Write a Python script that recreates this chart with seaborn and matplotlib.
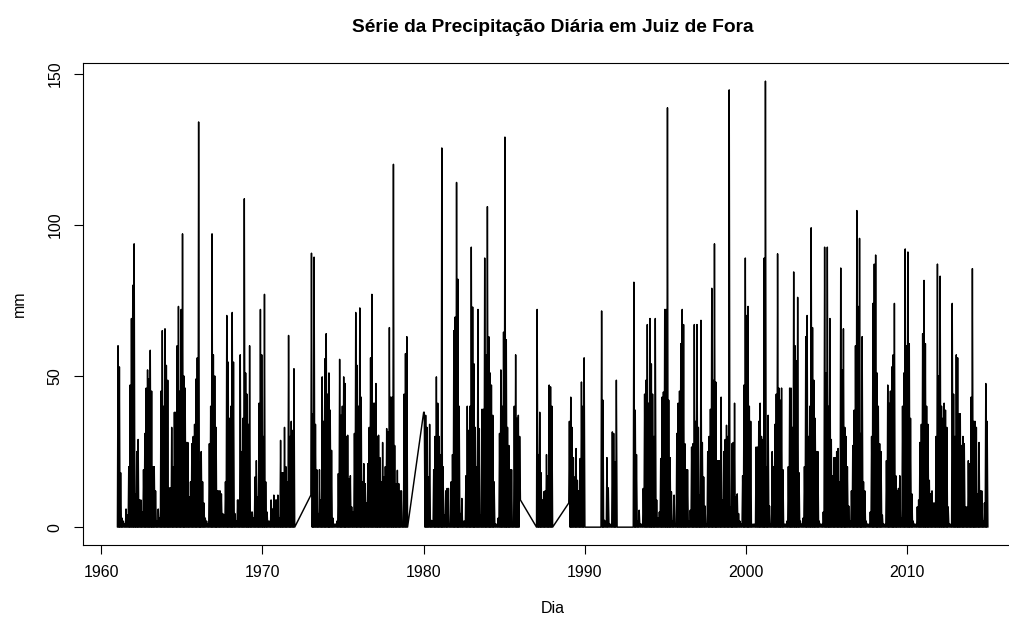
import matplotlib
matplotlib.use("Agg")
import matplotlib.pyplot as plt
import numpy as np
import pandas as pd
import seaborn as sns

# ---------------------------------------------------------------
# Monthly maximum of daily precipitation (mm), Jan..Dec
# ---------------------------------------------------------------
years_1960s = [1961, 1962, 1963, 1964, 1965, 1966, 1967, 1968, 1969]
rain_1960s = [
    [60, 53, 18, 3, 2, 1, 6, 4, 20, 47, 69, 80],
    [93.7, 11, 25, 29, 9, 9, 5, 19, 31, 46, 52, 49],
    [58.5, 45, 20, 20, 12, 2, 6, 3, 45, 65, 40, 65.6],
    [53.5, 48.6, 13, 13, 33, 20, 38, 38, 60, 73, 45, 72],
    [97, 50, 46, 28, 28, 10, 15, 27.6, 30, 34, 49, 56],
    [134, 21.6, 25, 15, 8, 3, 2, 1, 27.6, 40, 97, 57],
    [50, 33, 12, 12, 12, 11, 4.5, 4, 15, 70, 54.6, 36],
    [40, 71, 54.6, 4.5, 2, 9, 9, 57, 25, 36, 108.6, 51],
    [44, 34, 60, 5, 5, 3, 16.6, 22, 10, 41, 72, 57],
]

years_1970s = [1970, 1971, 1973, 1974, 1975, 1976, 1977, 1978]
rain_1970s = [
    [30, 77, 15, 5, 2, 2, 9, 6, 10.6, 9, 9, 10.6],
    [3, 28.7, 18, 18, 33, 20, 15, 63.4, 30, 35, 32, 52.4],
    [90.6, 37.5, 89.3, 34, 19, 4.5, 19, 9, 49.7, 35, 55.7, 64],
    [44, 51, 38.7, 25.4, 3, 1, 1, 2, 17.7, 55.5, 37, 40],
    [49.7, 47.5, 30, 30.4, 16, 17, 6.7, 5, 31, 71, 53.5, 40],
    [72.5, 43, 15, 21, 14.4, 8, 21, 33, 56, 77, 41, 41],
    [47.5, 30, 30.4, 23, 15, 28, 16.6, 20, 32.6, 31.5, 66, 43],
    [43, 120, 27, 14.4, 18.8, 14.4, 12, 12, 1, 44, 57.4, 63],
]

years_1980s = [1980, 1981, 1982, 1983, 1984, 1985, 1987, 1989]
rain_1980s = [
    [38, 37, 33, 16.6, 34, 2.3, 2, 19, 30, 49.7, 41, 30],
    [24, 125.4, 20, 4, 12, 12.8, 12.8, 1, 15, 24, 65, 69.5],
    [114, 82, 40, 4.5, 9.5, 2, 2, 17, 40, 32, 40, 92.6],
    [72.8, 54, 33, 20, 72, 32.6, 4, 39, 39, 89, 57, 106],
    [63, 51, 47, 37, 15, 1, 1, 3, 31, 52, 40, 64.5],
    [129, 62, 33, 27, 19, 19, 1, 40, 57, 36, 37, 30],
    [72, 24, 38, 18, 9, 11.7, 12, 24, 17, 47, 46.4, 40],
    [35, 43, 33, 23, 16.6, 26, 15.5, 12, 22.7, 48, 40, 56],
]

years_1990s = [1990, 1991, 1992, 1993, 1994, 1995, 1996, 1997, 1998, 1999]
rain_1990s = [
    [0, 0, 0, 0, 0, 0, 0, 0, 0, 0, 0, 0],
    [71.5, 42, 2.3, 2, 23, 13, 1, 1, 31.5, 31, 21.6, 48.6],
    [0, 0, 0, 0, 0, 0, 0, 0, 0, 0, 0, 0],
    [81, 38.7, 24, 2, 5.6, 1, 1, 12.8, 44, 48.6, 67, 41],
    [69, 54, 44, 30, 69, 9, 3, 5, 22.7, 43, 44.7, 72],
    [72, 138.7, 42, 23, 11.7, 2, 10.6, 1, 31, 41, 45, 60.7],
    [72, 67, 27.6, 19, 19, 2, 5.6, 26.5, 27.6, 67, 35, 67],
    [33, 10.6, 68.4, 28, 16.6, 7, 1, 25, 30, 39, 79, 48.6],
    [93.7, 48, 22, 22, 22, 43, 9, 25, 29, 33.7, 30, 144.6],
    [6.7, 27.6, 28, 41, 10, 11, 4.5, 2, 1, 17, 47, 89],
]

years_2000s = [2000, 2001, 2002, 2003, 2004, 2005, 2006, 2007, 2008, 2009]
rain_2000s = [
    [70, 73, 40, 35, 1, 1, 1, 26.5, 26.5, 35, 41, 30],
    [29, 89, 147.5, 20, 37, 7, 1, 25, 20, 34, 44, 90.4],
    [46, 42, 46, 19, 1, 1, 2, 20, 46, 46, 33, 84.4],
    [60, 55, 76, 18, 2, 1, 3, 20, 63, 70, 30, 40],
    [99, 66, 48.6, 36, 25, 25, 2, 1, 1, 5, 92.6, 51],
    [92.6, 40, 69, 29, 17, 23, 23, 25, 26, 15, 85.7, 52],
    [65.6, 33, 30, 20, 7, 2, 12, 27, 38.7, 60, 104.7, 73],
    [95.5, 31, 63, 15, 12, 2, 1, 1, 5, 30, 74, 87],
    [90, 51, 40, 27.6, 25, 4, 1, 1, 22, 47, 41, 45],
    [53, 57, 74, 17, 12, 12.8, 17, 3, 40, 51, 92, 60],
]

years_2010s = [2010, 2011, 2012, 2013, 2014]
rain_2010s = [
    [91, 60.7, 36, 11, 2, 1, 1, 6.7, 9, 28, 34, 64],
    [81.6, 60.7, 40, 34, 15.5, 11, 12, 8, 8, 30, 87, 50],
    [83, 40, 36, 41, 38.7, 33, 6.7, 1, 1, 74, 44, 30],
    [57, 56, 37.5, 37.5, 27, 30, 27.6, 6.7, 6.7, 22, 21, 43],
    [85.5, 35, 35, 33, 11, 28, 12, 12, 2, 8, 47.5, 35],
]

# values at the edges of the missing periods (the line joins across them)
edge_dates = ["1972-01-01", "1973-01-01", "1979-01-01", "1980-01-01",
              "1986-01-01", "1987-01-01", "1988-01-01", "1989-01-01",
              "2015-01-01"]
edge_mm = [0, 10.6, 0, 38, 9, 0, 0, 8, 0]

x_tick_years = [1960, 1970, 1980, 1990, 2000, 2010]
y_ticks = [0, 50, 100, 150]
title_text = "Série da Precipitação Diária em Juiz de Fora"
x_label = "Dia"
y_label = "mm"

# ---------------------------------------------------------------
# Build the series: each month has dry days (0) and its peak day
# ---------------------------------------------------------------
blocks = [(years_1960s, rain_1960s), (years_1970s, rain_1970s),
          (years_1980s, rain_1980s), (years_1990s, rain_1990s),
          (years_2000s, rain_2000s), (years_2010s, rain_2010s)]
points = {}
for yrs, rows in blocks:
    for y, row in zip(yrs, rows):
        for m, v in enumerate(row, start=1):
            points[pd.Timestamp(y, m, 1)] = 0.0
            points[pd.Timestamp(y, m, 15)] = float(v)
for d, v in zip(edge_dates, edge_mm):
    points[pd.Timestamp(d)] = float(v)
df = pd.DataFrame(sorted(points.items()), columns=["Dia", "mm"])

# ---------------------------------------------------------------
sns.set_style("white")
plt.rcParams["font.family"] = ["Liberation Sans", "DejaVu Sans"]
plt.rcParams["text.color"] = "black"
plt.rcParams["axes.labelcolor"] = "black"
plt.rcParams["xtick.color"] = "black"
plt.rcParams["ytick.color"] = "black"

W, H = 1009, 622
fig = plt.figure(figsize=(W / 100, H / 100), dpi=100)
left_px, right_px, top_px, bottom_px = 82.6, 1022.7, 63.3, 545.0
ax = fig.add_axes([left_px / W, 1 - bottom_px / H,
                   (right_px - left_px) / W, (bottom_px - top_px) / H])

sns.lineplot(data=df, x="Dia", y="mm", ax=ax, color="black",
             linewidth=1.05, estimator=None, sort=False)

d0, d1 = df["Dia"].min(), df["Dia"].max()
span = d1 - d0
ax.set_xlim(d0 - 0.04 * span, d1 + 0.04 * span)
ymax = df["mm"].max()
ax.set_ylim(-0.04 * ymax, ymax * 1.04)

ax.set_xticks([pd.Timestamp(y, 1, 1) for y in x_tick_years])
ax.set_xticklabels([str(y) for y in x_tick_years])
ax.set_yticks(y_ticks)
ax.set_yticklabels([str(v) for v in y_ticks], rotation=90, va="center")

ax.tick_params(axis="both", direction="out", length=6.5, width=0.8,
               color="black", labelsize=11.5, labelcolor="black",
               bottom=True, left=True, top=False, right=False)
ax.tick_params(axis="x", pad=8)
ax.tick_params(axis="y", pad=8)

for s in ax.spines.values():
    s.set_visible(True)
    s.set_color("black")
    s.set_linewidth(0.8)
ax.grid(False)

ax.set_xlabel(x_label, fontsize=11.5, labelpad=15, color="black")
ax.set_ylabel(y_label, fontsize=11.5, labelpad=14.5, color="black")

fig.text(((left_px + right_px) / 2) / W, 1 - 27 / H, title_text,
         ha="center", va="center", fontsize=13.8, fontweight="bold",
         color="black")

fig.savefig("out.png", dpi=100)
